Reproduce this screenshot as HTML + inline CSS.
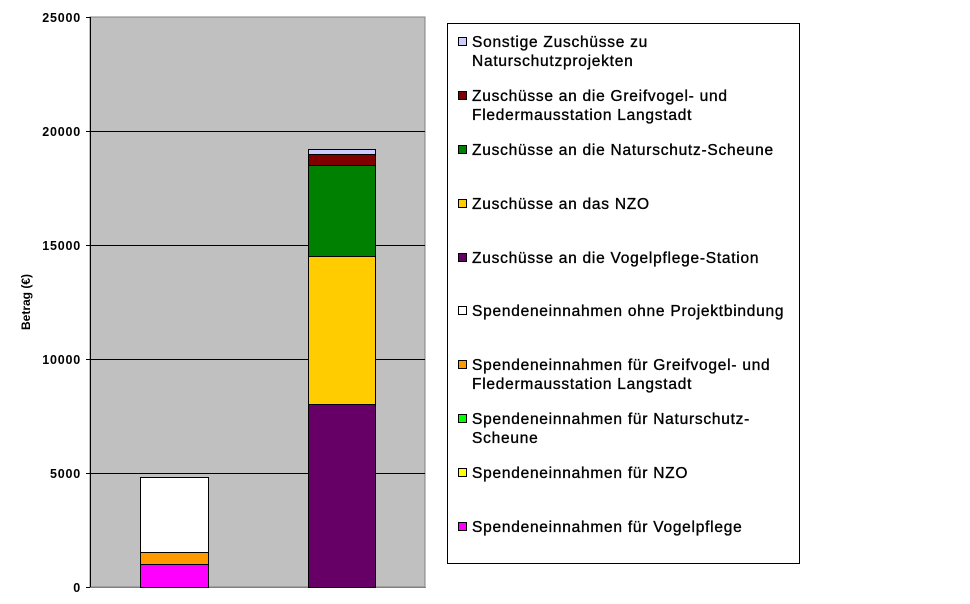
<!DOCTYPE html>
<html><head><meta charset="utf-8"><style>body{margin:0;background:#fff}svg{display:block}</style></head><body>
<svg width="970" height="604" xmlns="http://www.w3.org/2000/svg" font-family="Liberation Sans, Arial, sans-serif">
<rect x="90" y="17" width="335" height="570" fill="#c0c0c0" stroke="#808080" stroke-width="1"/>
<g stroke="#000" stroke-width="1">
<line x1="90" y1="131.5" x2="425" y2="131.5"/>
<line x1="90" y1="245.5" x2="425" y2="245.5"/>
<line x1="90" y1="359.5" x2="425" y2="359.5"/>
<line x1="90" y1="473.5" x2="425" y2="473.5"/>
<line x1="90.5" y1="17" x2="90.5" y2="587"/>
<line x1="86" y1="17.5" x2="90" y2="17.5"/><line x1="86" y1="131.5" x2="90" y2="131.5"/>
<line x1="86" y1="245.5" x2="90" y2="245.5"/><line x1="86" y1="359.5" x2="90" y2="359.5"/>
<line x1="86" y1="473.5" x2="90" y2="473.5"/><line x1="86" y1="587.5" x2="90" y2="587.5"/>
</g>
<line x1="90" y1="587.5" x2="426" y2="587.5" stroke="#808080"/>
<g font-size="12.5" font-weight="bold" text-anchor="end" letter-spacing="0.8">
<text x="81" y="22">25000</text><text x="81" y="136">20000</text><text x="81" y="250">15000</text>
<text x="81" y="364">10000</text><text x="81" y="478">5000</text><text x="81" y="592">0</text>
</g>
<text transform="translate(30,302) rotate(-90)" font-size="12" font-weight="bold" text-anchor="middle">Betrag (€)</text>
<g stroke="#000" stroke-width="1">
<rect x="140.5" y="477.5" width="68" height="75" fill="#fff"/>
<rect x="140.5" y="552.5" width="68" height="12" fill="#ff9900"/>
<rect x="140.5" y="564.5" width="68" height="23" fill="#ff00ff"/>
<rect x="308.5" y="404.5" width="67" height="183" fill="#660066"/>
<rect x="308.5" y="256.5" width="67" height="148" fill="#ffcc00"/>
<rect x="308.5" y="165.5" width="67" height="91" fill="#008000"/>
<rect x="308.5" y="154.5" width="67" height="11" fill="#800000"/>
<rect x="308.5" y="149.5" width="67" height="5" fill="#ccccff"/>
</g>
<rect x="447.5" y="23.5" width="352" height="540" fill="#fff" stroke="#000"/>
<g stroke="#000" stroke-width="1">
<rect x="458.5" y="37.5" width="8" height="8" fill="#ccccff"/>
<rect x="458.5" y="91.5" width="8" height="8" fill="#800000"/>
<rect x="458.5" y="145.5" width="8" height="8" fill="#008000"/>
<rect x="458.5" y="199.5" width="8" height="8" fill="#ffcc00"/>
<rect x="458.5" y="253.5" width="8" height="8" fill="#660066"/>
<rect x="458.5" y="306.5" width="8" height="8" fill="#fff"/>
<rect x="458.5" y="360.5" width="8" height="8" fill="#ff9900"/>
<rect x="458.5" y="414.5" width="8" height="8" fill="#00ff00"/>
<rect x="458.5" y="468.5" width="8" height="8" fill="#ffff00"/>
<rect x="458.5" y="522.5" width="8" height="8" fill="#ff00ff"/>
</g>
<g font-size="15.5" letter-spacing="0.75" stroke="#000" stroke-width="0.35">
<text x="472" y="47">Sonstige Zuschüsse zu</text><text x="472" y="66">Naturschutzprojekten</text>
<text x="472" y="101">Zuschüsse an die Greifvogel- und</text><text x="472" y="120">Fledermausstation Langstadt</text>
<text x="472" y="155">Zuschüsse an die Naturschutz-Scheune</text>
<text x="472" y="209">Zuschüsse an das NZO</text>
<text x="472" y="263">Zuschüsse an die Vogelpflege-Station</text>
<text x="472" y="316">Spendeneinnahmen ohne Projektbindung</text>
<text x="472" y="370">Spendeneinnahmen für Greifvogel- und</text><text x="472" y="389">Fledermausstation Langstadt</text>
<text x="472" y="424">Spendeneinnahmen für Naturschutz-</text><text x="472" y="443">Scheune</text>
<text x="472" y="478">Spendeneinnahmen für NZO</text>
<text x="472" y="532">Spendeneinnahmen für Vogelpflege</text>
</g>
</svg>
</body></html>
